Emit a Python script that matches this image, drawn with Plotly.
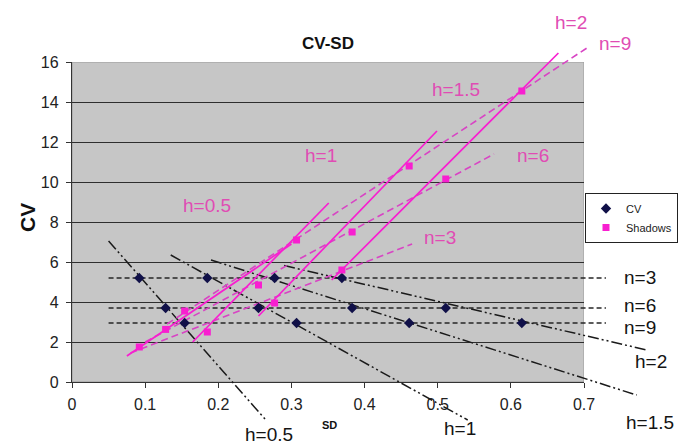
import plotly.graph_objects as go

# ---------------- data ----------------
n_values = [3, 6, 9]
h_values = [0.5, 1, 1.5, 2]

# SD of the CV points (rows: n=3,6,9 ; columns: h=0.5,1,1.5,2)
sd_n3 = [0.092, 0.185, 0.277, 0.369]
sd_n6 = [0.128, 0.255, 0.383, 0.511]
sd_n9 = [0.154, 0.307, 0.461, 0.615]

# CV levels (one per n)
cv_n3 = [5.2, 5.2, 5.2, 5.2]
cv_n6 = [3.7, 3.7, 3.7, 3.7]
cv_n9 = [2.95, 2.95, 2.95, 2.95]

# Shadows values at the same SD
shadow_n3 = [1.75, 2.5, 3.95, 5.6]
shadow_n6 = [2.63, 4.85, 7.5, 10.15]
shadow_n9 = [3.55, 7.1, 10.8, 14.55]

# black dashed horizontal n-lines (x extent)
n_line_x = [0.05, 0.73]

# black dash-dot h-lines (start/end points)
h_black_x = {0.5: [0.05, 0.265], 1: [0.135, 0.541], 1.5: [0.19, 0.772], 2: [0.29, 0.786]}
h_black_y = {0.5: [7.05, -1.9], 1: [6.35, -1.9], 1.5: [6.1, -0.65], 2: [5.82, 1.6]}

# magenta solid h-lines (start/end points)
h_mag_x = {0.5: [0.075, 0.30], 1: [0.165, 0.351], 1.5: [0.255, 0.499], 2: [0.355, 0.665]}
h_mag_y = {0.5: [1.3, 6.9], 1: [2.0, 8.95], 1.5: [3.3, 12.55], 2: [5.1, 16.45]}

# magenta dashed n-lines (start/end points)
n_mag_x = {3: [0.08, 0.465], 6: [0.10, 0.577], 9: [0.13, 0.704]}
n_mag_y = {3: [1.45, 6.9], 6: [2.0, 11.4], 9: [2.9, 16.7]}

x_ticks = [0, 0.1, 0.2, 0.3, 0.4, 0.5, 0.6, 0.7]
y_ticks = [0, 2, 4, 6, 8, 10, 12, 14, 16]

# ---------------- layout geometry ----------------
VW, VH = 692, 444          # browser window
OFF = 8                    # default page body margin
W, H = VW - OFF, VH - OFF  # figure size so it fills the window exactly
PX_L, PX_R, PX_B, PX_T = 72, 584, 382, 62   # grey plot area in window pixels
XMAX, YMAX = 0.7, 16
ux = XMAX / (PX_R - PX_L)
uy = YMAX / (PX_B - PX_T)
x2_range = [-(PX_L - OFF) * ux, XMAX + (VW - PX_R) * ux]
y2_range = [-(VH - PX_B) * uy, YMAX + (PX_T - OFF) * uy]


def pxx(px):
    return (px - OFF) / W


def pxy(py):
    return 1 - (py - OFF) / H


MAG = "#f81fd0"
MAG_D = "#d844c4"
MAG_T = "#e04cb4"
FONT = "Liberation Sans, Arial, sans-serif"

fig = go.Figure()

# invisible trace to keep the main subplot alive
fig.add_trace(go.Scatter(x=[0], y=[0], mode="markers", marker=dict(opacity=0),
                         showlegend=False, hoverinfo="skip", xaxis="x", yaxis="y"))

# black dashed horizontal lines
for lvl in [cv_n3[0], cv_n6[0], cv_n9[0]]:
    fig.add_trace(go.Scatter(x=n_line_x, y=[lvl, lvl], mode="lines",
                             line=dict(color="#262626", width=1.4, dash="5px,3px"),
                             showlegend=False, hoverinfo="skip", xaxis="x2", yaxis="y2"))

# black dash-dot-dot h lines
for h in h_values:
    fig.add_trace(go.Scatter(x=h_black_x[h], y=h_black_y[h], mode="lines",
                             line=dict(color="#1a1a1a", width=1.5, dash="11px,3px,2px,3px,2px,3px"),
                             showlegend=False, hoverinfo="skip", xaxis="x2", yaxis="y2"))

# magenta dashed n lines
for n in n_values:
    fig.add_trace(go.Scatter(x=n_mag_x[n], y=n_mag_y[n], mode="lines",
                             line=dict(color=MAG_D, width=1.6, dash="7px,4px"),
                             showlegend=False, hoverinfo="skip", xaxis="x2", yaxis="y2"))

# magenta solid h lines
for h in h_values:
    fig.add_trace(go.Scatter(x=h_mag_x[h], y=h_mag_y[h], mode="lines",
                             line=dict(color=MAG, width=1.7),
                             showlegend=False, hoverinfo="skip", xaxis="x2", yaxis="y2"))

# CV points
fig.add_trace(go.Scatter(x=sd_n3 + sd_n6 + sd_n9, y=cv_n3 + cv_n6 + cv_n9, mode="markers",
                         name="CV", marker=dict(symbol="diamond", size=8, color="#101048"),
                         xaxis="x2", yaxis="y2"))
# Shadows points
fig.add_trace(go.Scatter(x=sd_n3 + sd_n6 + sd_n9, y=shadow_n3 + shadow_n6 + shadow_n9,
                         mode="markers", name="Shadows",
                         marker=dict(symbol="square", size=7, color=MAG),
                         xaxis="x2", yaxis="y2"))

# grey plot area
fig.add_shape(type="rect", xref="x", yref="y", x0=0, x1=XMAX, y0=0, y1=YMAX,
              fillcolor="#c6c6c6", line=dict(color="#9a9a9a", width=1), layer="below")


def ann(text, px, py, size=19, color="#111", bold=False, angle=0):
    fig.add_annotation(x=pxx(px), y=pxy(py), xref="paper", yref="paper",
                       text=f"<b>{text}</b>" if bold else text, showarrow=False,
                       xanchor="center", yanchor="middle", textangle=angle,
                       font=dict(family=FONT, size=size, color=color))


# titles
ann("CV-SD", 328, 43, size=17, bold=True)
ann("CV", 27, 218, size=21, bold=True, angle=-90)
ann("SD", 329, 425, size=11, bold=True)

# black labels
for t, px, py in [("n=3", 640, 277), ("n=6", 640, 305), ("n=9", 640, 327),
                  ("h=2", 651, 361), ("h=1.5", 650, 422), ("h=1", 460, 428),
                  ("h=0.5", 269, 434)]:
    ann(t, px, py, size=19, color="#141414")

# magenta labels
for t, px, py in [("h=0.5", 207, 205), ("h=1", 321, 156), ("h=1.5", 456, 90),
                  ("h=2", 571, 22), ("n=9", 615, 43), ("n=6", 533, 156), ("n=3", 440, 237)]:
    ann(t, px, py, size=19, color=MAG_T)

fig.update_layout(
    width=W, height=H, autosize=False,
    margin=dict(l=0, r=0, t=0, b=0, autoexpand=False),
    paper_bgcolor="white", plot_bgcolor="rgba(0,0,0,0)",
    font=dict(family=FONT, color="#222"),
    xaxis=dict(domain=[pxx(PX_L), pxx(PX_R)], range=[0, XMAX], anchor="y", automargin=False,
               tickvals=x_ticks, ticktext=[f"{v:g}" for v in x_ticks],
               showgrid=False, zeroline=False, showline=True, linecolor="#333", linewidth=1.3,
               ticks="outside", ticklen=5, tickcolor="#333", tickwidth=1.2,
               tickfont=dict(size=16, color="#222"), ticklabelstandoff=3),
    yaxis=dict(domain=[pxy(PX_B), pxy(PX_T)], range=[0, YMAX], anchor="x", automargin=False,
               tickvals=y_ticks, showgrid=True, gridcolor="#2e2e2e", gridwidth=1.3,
               zeroline=False, showline=True, linecolor="#333", linewidth=1.3,
               ticks="outside", ticklen=5, tickcolor="#333", tickwidth=1.2,
               tickfont=dict(size=16, color="#222"), ticklabelstandoff=4),
    xaxis2=dict(domain=[0, 1], range=x2_range, anchor="y2", visible=False, automargin=False),
    yaxis2=dict(domain=[0, 1], range=y2_range, anchor="x2", visible=False, automargin=False),
    legend=dict(x=pxx(585), y=pxy(193), xanchor="left", yanchor="top",
                bgcolor="white", bordercolor="#222", borderwidth=1,
                font=dict(size=11, family=FONT, color="#222"), itemwidth=30,
                tracegroupgap=0),
    showlegend=True,
)

fig.write_html("out.html")
